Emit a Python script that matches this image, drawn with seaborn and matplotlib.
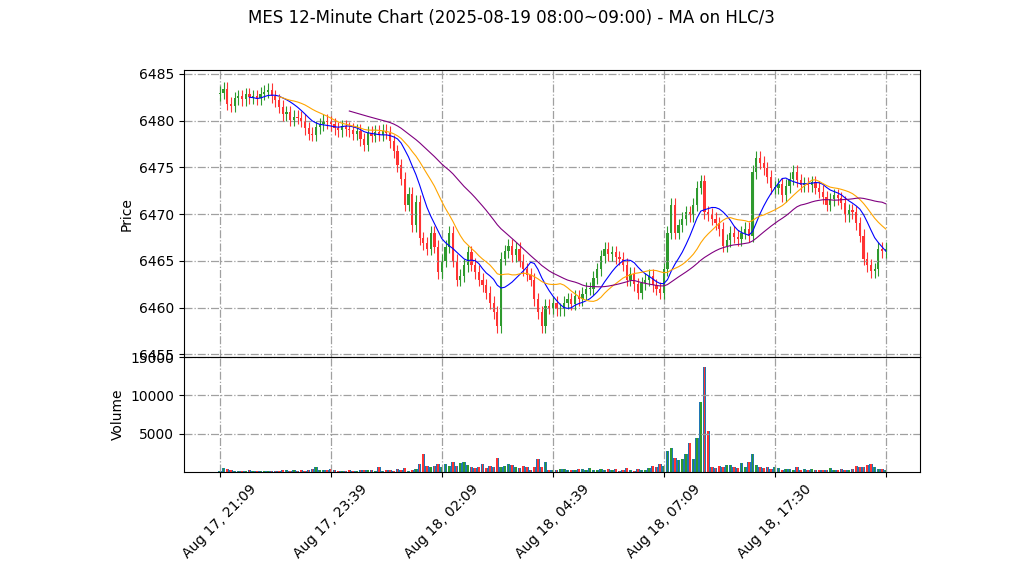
"""
MES 12-minute candlestick chart with moving averages on HLC/3 and volume panel.
"""

import numpy as np
import pandas as pd
import matplotlib
matplotlib.use("Agg")
import matplotlib.pyplot as plt
import seaborn as sns

# ── Data ───────────────────────────────────────────────────────────────
closes = [
    6483.0, 6483.4, 6481.8, 6481.6, 6482.4, 6482.6, 6482.3, 6482.8, 6482.5, 6482.6,
    6482.4, 6482.9, 6483.1, 6483.3, 6482.6, 6482.2, 6481.5, 6480.7, 6480.9, 6480.1,
    6480.4, 6480.3, 6480.0, 6479.2, 6478.6, 6478.5, 6479.3, 6479.6, 6480.0, 6479.8,
    6479.6, 6479.2, 6479.0, 6479.4, 6479.1, 6479.0, 6478.6, 6478.9, 6478.0, 6477.4,
    6478.7, 6478.4, 6478.8, 6478.5, 6478.9, 6478.7, 6477.8, 6476.7, 6475.2, 6473.8,
    6471.0, 6472.2, 6468.8, 6471.3, 6467.4, 6466.9, 6466.3, 6468.0, 6466.5, 6463.8,
    6465.0, 6466.5, 6468.0, 6465.0, 6463.0, 6463.4, 6464.5, 6465.9, 6464.6, 6463.8,
    6463.0, 6462.4, 6461.6, 6460.5, 6459.5, 6458.0, 6465.2, 6466.0, 6466.6, 6465.6,
    6466.3, 6465.0, 6464.1, 6463.5, 6463.0, 6460.9, 6459.5, 6458.0, 6460.2, 6460.0,
    6460.5, 6459.8, 6459.8, 6460.5, 6460.9, 6460.4, 6461.2, 6460.9, 6461.5, 6462.0,
    6462.0, 6463.2, 6464.1, 6465.5, 6466.3, 6465.7, 6465.9, 6465.4, 6465.2, 6464.6,
    6463.0, 6463.6, 6462.5, 6461.6, 6462.6, 6463.0, 6463.4, 6462.4, 6462.0, 6461.6,
    6464.1, 6468.0, 6471.0, 6468.0, 6468.8, 6469.5, 6470.2, 6469.9, 6471.0, 6472.8,
    6473.5, 6470.2, 6470.0, 6469.5, 6469.0, 6468.4, 6466.6, 6467.2, 6468.0, 6467.6,
    6467.3, 6468.0, 6468.4, 6467.7, 6474.5, 6476.0, 6475.5, 6474.9, 6474.0, 6472.8,
    6472.8, 6473.2, 6472.0, 6473.0, 6473.8, 6474.5, 6473.6, 6473.1, 6473.3, 6473.1,
    6473.4, 6472.8, 6472.4, 6471.8, 6471.0, 6471.6, 6472.0, 6471.7, 6471.2, 6469.9,
    6470.4, 6470.2, 6469.0, 6467.7, 6465.2, 6464.5, 6463.9, 6464.1, 6466.3, 6466.0,
    6466.3,
]
first_open = 6482.8

volumes = [
    150, 500, 450, 250, 150, 200, 100, 150, 250, 200,
    100, 100, 100, 100, 100, 100, 150, 250, 250, 150,
    300, 200, 300, 150, 250, 400, 700, 300, 250, 250,
    400, 250, 150, 150, 200, 250, 200, 150, 250, 300,
    250, 250, 200, 600, 200, 300, 300, 200, 400, 250,
    500, 150, 250, 450, 1100, 2400, 800, 600, 800, 1100,
    700, 1000, 800, 1300, 800, 1200, 1300, 900, 700, 500,
    700, 1000, 500, 800, 700, 1900, 600, 800, 1000, 900,
    700, 500, 800, 600, 300, 600, 1700, 700, 1300, 300,
    250, 300, 400, 450, 300, 250, 300, 400, 350, 250,
    500, 300, 250, 400, 250, 350, 300, 350, 200, 300,
    500, 250, 200, 350, 300, 250, 500, 800, 700, 1000,
    800, 2800, 3200, 1800, 1600, 1700, 2400, 3800, 1700, 4400,
    9200, 13700, 5300, 600, 500, 800, 600, 900, 900, 600,
    500, 1200, 600, 1300, 2400, 900, 600, 500, 700, 400,
    600, 500, 300, 400, 400, 300, 700, 300, 400, 300,
    400, 250, 300, 300, 300, 500, 300, 300, 400, 300,
    300, 400, 800, 600, 700, 900, 1100, 700, 400, 400,
    300,
]

tick_labels = [
    "Aug 17, 21:09", "Aug 17, 23:39", "Aug 18, 02:09", "Aug 18, 04:39",
    "Aug 18, 07:09", "Aug 18, 17:30", "",
]

MA_WINDOWS = {"blue": 9, "orange": 17, "purple": 36}
UP_COLOR = "#2e9a2e"
DOWN_COLOR = "#ff3333"

# ── Build frame ──────────────────────────────────────────────────────────
df = pd.DataFrame({"close": closes, "volume": volumes})
df["open"] = [first_open] + closes[:-1]
df["high"] = df[["open", "close"]].max(axis=1) + 0.7
df["low"] = df[["open", "close"]].min(axis=1) - 0.7
df["idx"] = np.arange(len(df))
df["hlc3"] = (df["high"] + df["low"] + df["close"]) / 3
up = df["close"] >= df["open"]
colors = np.where(up, UP_COLOR, DOWN_COLOR)

# ── Plot ─────────────────────────────────────────────────────────────────
fig = plt.figure(figsize=(10.22, 5.75), dpi=100)
ax = fig.add_axes([0.18, 0.379, 0.72, 0.499])
axv = fig.add_axes([0.18, 0.179, 0.72, 0.2], sharex=ax)

grid_kw = dict(color="#a0a0a0", linestyle="-.", linewidth=0.9)

ax.vlines(df["idx"], df["low"], df["high"], colors=colors, linewidth=0.8)
ax.bar(df["idx"], (df["close"] - df["open"]).abs().clip(lower=0.1),
       bottom=df[["open", "close"]].min(axis=1), width=0.6, color=colors)

for color, window in MA_WINDOWS.items():
    ma = df["hlc3"].rolling(window).mean()
    sns.lineplot(x=df["idx"], y=ma, ax=ax, color=color, linewidth=0.8)

ax.set_ylim(6454.7, 6485.4)
ax.set_yticks(range(6455, 6486, 5))
ax.set_ylabel("Price")
ax.set_xlabel("")
ax.grid(True, **grid_kw)
ax.tick_params(labelbottom=False)

axv.bar(df["idx"], df["volume"], width=0.9, color="tab:blue")
axv.bar(df["idx"], df["volume"], width=0.45, color=colors)
axv.set_ylim(0, 15000)
axv.set_yticks([5000, 10000, 15000])
axv.set_ylabel("Volume")
axv.grid(True, **grid_kw)

axv.set_xlim(-9.7, 189.2)
axv.set_xticks(range(0, 181, 30))
axv.set_xticklabels(tick_labels, rotation=45)

fig.suptitle("MES 12-Minute Chart (2025-08-19 08:00~09:00) - MA on HLC/3", fontsize=12, y=0.985)
fig.savefig("out.png", dpi=100)
